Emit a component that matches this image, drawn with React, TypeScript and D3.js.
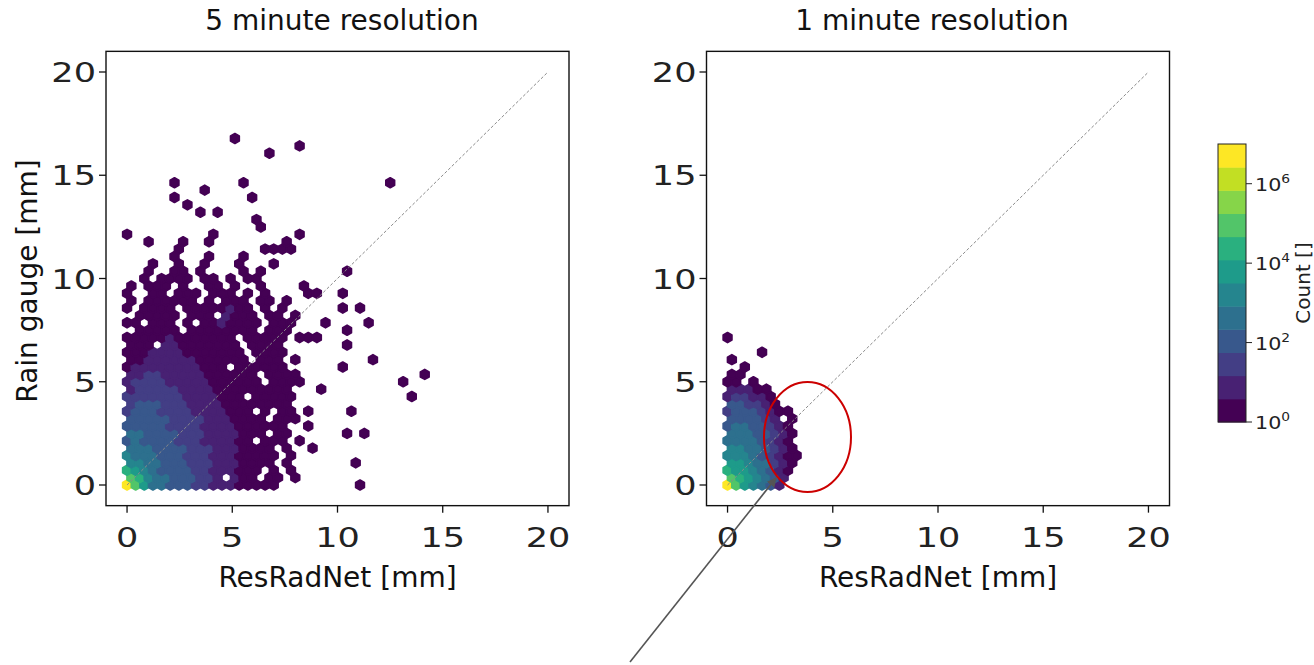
import React, { useEffect, useRef } from 'react';
import * as d3 from 'd3';

// hexbin cells: one string per hex row (row 0 sits on y = 0,
// odd rows are shifted half a cell to the right), one char per column.
// '.' = empty, '0'..'9','a','b' = colour band of the count (0 = 1 count, b = top band)
const leftRows = [
  'b86443332211100000.........0',
  '87544333221.100.00.0',
  '7654333322111000.0.0',
  '55443332221110000.0.......0',
  '544433322211100000.0',
  '44433332221110000.0..0',
  '343333222111100.000.0',
  '4433332221111000.00......0.0',
  '3333322221111000000..0',
  '3333322221110000.000',
  '233322221111000.0.00.0....0',
  '2333222111100000000',
  '22222221111000.00000.............0',
  '1222221111000000000...0',
  '1222211111000000.0000...........0',
  '112211111000000.0000..............0',
  '011111111000.000000......0',
  '00111111000000.000.0........0',
  '00011110000000.0000',
  '000.110000000.0000.......0',
  '0000010000000.00000.000',
  '.00000.00000000.000......0',
  '00.000.0.0010000.000...0....0',
  '.00000.000.1000.00.0',
  '0.0000.00000100.0.0......0.0',
  '0.000000.0.000.00.0',
  '0..00.000.000.0.0....00..0',
  '0.000.0..00.0..0....0',
  '..0.0000.00.0.00',
  '..0..00.0....0.0.........0',
  '...0..0..0...0...0',
  '.....0...0...0',
  '......0.........0000',
  '..0...0..0........0',
  '0.........0.........0',
  '...............0',
  '...............0',
  '........0.0',
  '.......0',
  '.....0........0',
  '.........0',
  '.....0.......0................0',
  '',
  '',
  '',
  '................0',
  '....................0',
  '............0',
];

const rightRows = [
  'b865431',
  '8765431',
  '76654310',
  '66544210',
  '555432100',
  '55443210',
  '44443210',
  '44433210',
  '34433210',
  '333321.0',
  '23332100',
  '332210',
  '122110',
  '11100',
  '00.0',
  '00',
  '..0',
  '0',
  '....0',
  '',
  '0',
];

const axisTicks = [0, 5, 10, 15, 20];
const colorbarTicks = [0, 2, 4, 6]; // log10(count)
const titles = ['5 minute resolution', '1 minute resolution'];
const xLabel = 'ResRadNet [mm]';
const yLabel = 'Rain gauge [mm]';
const cbLabel = 'Count []';

const nBands = 12;
const logMax = 7;
const hexDx = 0.41;
const hexDy = 0.357;

export default function App() {
  const ref = useRef<SVGSVGElement>(null);

  useEffect(() => {
    document.body.style.margin = '0';
    const svg = d3.select(ref.current);
    svg.selectAll('*').remove();

    const bandColors = d3.range(nBands).map((i) => d3.interpolateViridis(i / (nBands - 1)));
    const color = d3.scaleQuantize<string>().domain([0, logMax]).range(bandColors);
    const font = 'DejaVu Sans, sans-serif';

    svg.append('rect').attr('width', 1314).attr('height', 665).attr('fill', '#fff');

    const panels = [
      { rows: leftRows, left: 106, title: titles[0], titleX: 342, showY: true },
      { rows: rightRows, left: 706.5, title: titles[1], titleX: 932, showY: false },
    ];

    panels.forEach((p) => {
      const x = d3.scaleLinear().domain([-1, 21]).range([p.left, p.left + 463]);
      const y = d3.scaleLinear().domain([-1, 21]).range([505.65, 51.35]);
      const g = svg.append('g');

      const cells: { x: number; y: number; count: number }[] = [];
      p.rows.forEach((row, r) => {
        row.split('').forEach((ch, c) => {
          if (ch === '.') return;
          const band = parseInt(ch, 16);
          cells.push({
            x: (c + (r % 2) * 0.5) * hexDx,
            y: r * hexDy,
            count: Math.pow(10, ((band + 0.5) * logMax) / nBands),
          });
        });
      });

      const rx = (x(hexDx) - x(0)) / 2;
      const ry = ((y(0) - y(hexDy)) * 2) / 3;
      const hex = `M0,${-ry}L${rx},${-ry / 2}L${rx},${ry / 2}L0,${ry}L${-rx},${ry / 2}L${-rx},${-ry / 2}Z`;

      g.selectAll('path.hex')
        .data(cells)
        .enter()
        .append('path')
        .attr('class', 'hex')
        .attr('d', hex)
        .attr('transform', (d) => `translate(${x(d.x)},${y(d.y)})`)
        .attr('fill', (d) => color(Math.log10(d.count)))
        .attr('stroke', (d) => color(Math.log10(d.count)))
        .attr('stroke-width', 1.8)
        .attr('stroke-linejoin', 'round');

      // 1:1 line
      g.append('line')
        .attr('x1', x(0)).attr('y1', y(0))
        .attr('x2', x(20)).attr('y2', y(20))
        .attr('stroke', '#8a8a8a')
        .attr('stroke-width', 1)
        .attr('stroke-dasharray', '3,2');

      g.append('rect')
        .attr('x', x(-1)).attr('y', y(21))
        .attr('width', x(21) - x(-1)).attr('height', y(-1) - y(21))
        .attr('fill', 'none').attr('stroke', '#111').attr('stroke-width', 1.4);

      axisTicks.forEach((t) => {
        g.append('line')
          .attr('x1', x(t)).attr('x2', x(t))
          .attr('y1', y(-1)).attr('y2', y(-1) + 7)
          .attr('stroke', '#111').attr('stroke-width', 1.3);
        g.append('text')
          .attr('transform', `translate(${x(t)},547) scale(1.3,1)`)
          .attr('text-anchor', 'middle')
          .style('font-family', font).style('font-size', '27px').attr('fill', '#222')
          .text(t);
        g.append('line')
          .attr('x1', x(-1) - 7).attr('x2', x(-1))
          .attr('y1', y(t)).attr('y2', y(t))
          .attr('stroke', '#111').attr('stroke-width', 1.3);
        g.append('text')
          .attr('transform', `translate(${x(-1) - 10},${y(t) + 10}) scale(1.3,1)`)
          .attr('text-anchor', 'end')
          .style('font-family', font).style('font-size', '27px').attr('fill', '#222')
          .text(t);
      });

      svg.append('text')
        .attr('x', p.titleX).attr('y', 30)
        .attr('text-anchor', 'middle')
        .style('font-family', font).style('font-size', '28px').attr('fill', '#111')
        .text(p.title);

      svg.append('text')
        .attr('x', (x(-1) + x(21)) / 2).attr('y', 587)
        .attr('text-anchor', 'middle')
        .style('font-family', font).style('font-size', '28px').attr('fill', '#111')
        .text(xLabel);

      if (p.showY) {
        svg.append('text')
          .attr('transform', 'translate(37,281) rotate(-90)')
          .attr('text-anchor', 'middle')
          .style('font-family', font).style('font-size', '28px').attr('fill', '#111')
          .text(yLabel);
      }
    });

    // colour bar
    const cbY = d3.scaleLinear().domain([0, logMax]).range([422, 144]);
    const cb = svg.append('g');
    cb.selectAll('rect.band')
      .data(bandColors)
      .enter()
      .append('rect')
      .attr('class', 'band')
      .attr('x', 1218)
      .attr('width', 28)
      .attr('y', (_d, i) => cbY(((i + 1) * logMax) / nBands))
      .attr('height', (_d, i) => cbY((i * logMax) / nBands) - cbY(((i + 1) * logMax) / nBands) + 0.5)
      .attr('fill', (d) => d);
    cb.append('rect')
      .attr('x', 1218).attr('y', cbY(logMax))
      .attr('width', 28).attr('height', cbY(0) - cbY(logMax))
      .attr('fill', 'none').attr('stroke', '#222').attr('stroke-width', 1);
    colorbarTicks.forEach((t) => {
      cb.append('line')
        .attr('x1', 1246).attr('x2', 1252)
        .attr('y1', cbY(t)).attr('y2', cbY(t))
        .attr('stroke', '#222').attr('stroke-width', 1);
      const lbl = cb.append('text')
        .attr('transform', `translate(1255,${cbY(t) + 7}) scale(1.15,1)`)
        .style('font-family', font).style('font-size', '18px').attr('fill', '#222');
      lbl.append('tspan').text('10');
      lbl.append('tspan').attr('dy', -8).style('font-size', '12px').text(t);
    });
    cb.append('text')
      .attr('transform', 'translate(1310,283) rotate(-90)')
      .attr('text-anchor', 'middle')
      .style('font-family', font).style('font-size', '20px').attr('fill', '#222')
      .text(cbLabel);

    // annotation
    const defs = svg.append('defs');
    defs.append('marker')
      .attr('id', 'arrowhead')
      .attr('viewBox', '0 0 10 10')
      .attr('refX', 9).attr('refY', 5)
      .attr('markerWidth', 6).attr('markerHeight', 6)
      .attr('orient', 'auto')
      .append('path').attr('d', 'M0,0L10,5L0,10Z').attr('fill', '#555');
    svg.append('line')
      .attr('x1', 630).attr('y1', 662)
      .attr('x2', 776).attr('y2', 478)
      .attr('stroke', '#555').attr('stroke-width', 1.6)
      .attr('marker-end', 'url(#arrowhead)');
    svg.append('ellipse')
      .attr('cx', 807.5).attr('cy', 437)
      .attr('rx', 43.5).attr('ry', 55)
      .attr('fill', 'none').attr('stroke', '#cc0000').attr('stroke-width', 2);
  }, []);

  return <svg ref={ref} width={1314} height={665} style={{ display: 'block' }} />;
}
